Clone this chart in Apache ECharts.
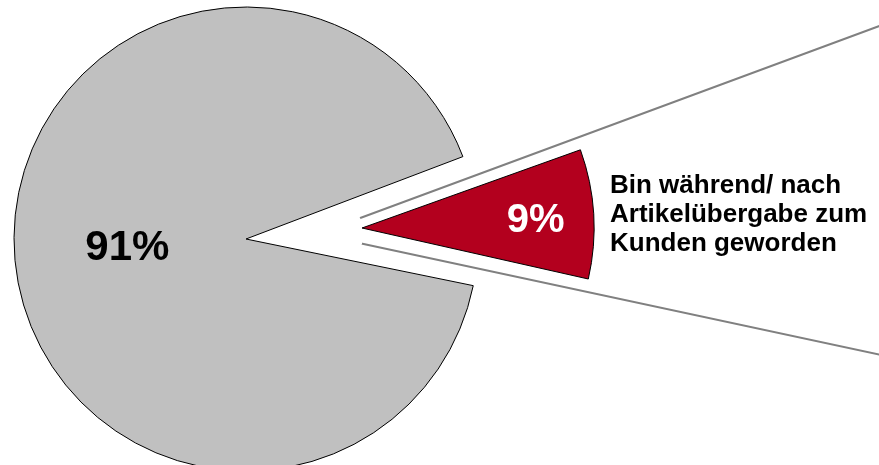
<!DOCTYPE html>
<html>
<head>
<meta charset="utf-8">
<script src="https://cdn.jsdelivr.net/npm/echarts@6/dist/echarts.min.js"></script>
<style>
  html, body { margin: 0; padding: 0; background: #fff; }
  #main { width: 879px; height: 465px; }
</style>
</head>
<body>
<div id="main"></div>
<script>
var categories = ['Sonstige', 'Bin während/ nach Artikelübergabe zum Kunden geworden'];
var values = [91, 9];
var labelLines = ['Bin während/ nach', 'Artikelübergabe zum', 'Kunden geworden'];

var chart = echarts.init(document.getElementById('main'));

var font = 'Arial, "Liberation Sans", sans-serif';
var hidden = { color: 'rgba(0,0,0,0)', borderWidth: 0 };
var noLabel = { show: false };

function slice(i, itemStyle, label) {
  return { name: categories[i], value: values[i], itemStyle: itemStyle, label: label || noLabel };
}

// shared pie settings, nothing interactive
function pie(center, radius, startAngle, data, z) {
  return {
    type: 'pie',
    z: z,
    center: center,
    radius: radius,
    startAngle: startAngle,
    clockwise: true,
    silent: true,
    avoidLabelOverlap: false,
    minAngle: 0,
    labelLine: { show: false },
    emphasis: { disabled: true, scale: false },
    data: data
  };
}

var option = {
  animation: false,
  title: {
    text: labelLines.join('\n'),
    left: 610,
    top: 171,
    padding: 0,
    textStyle: { fontFamily: font, fontSize: 26, fontWeight: 'bold', color: '#000', lineHeight: 29 }
  },
  series: [
    // grosser Hintergrund-Keil (Lupe)
    pie([317, 234], 700, 20.3, [
      slice(1, { color: '#fff', borderColor: '#808080', borderWidth: 2 }),
      slice(0, hidden)
    ], 1),
    // Spitze ausblenden
    pie([317, 234], 44, 20.3, [
      slice(1, { color: '#fff', borderColor: '#fff', borderWidth: 4 }),
      slice(0, hidden)
    ], 2),
    // Hauptkreis 91%
    pie([246, 239], 232, 20.8, [
      slice(1, hidden),
      slice(0, { color: '#C0C0C0', borderColor: '#000', borderWidth: 1 }, {
        show: true, position: 'inside', formatter: '{c}%',
        fontFamily: font, fontSize: 42, fontWeight: 'bold', color: '#000'
      })
    ], 3),
    // herausgezogenes 9%-Stueck
    pie([362, 228], 232, 19.7, [
      slice(1, { color: '#B3001E', borderColor: '#000', borderWidth: 1 }, {
        show: true, position: 'inside', formatter: '{c}%',
        fontFamily: font, fontSize: 40, fontWeight: 'bold', color: '#fff',
        padding: [0, 0, 0, 110]
      }),
      slice(0, hidden)
    ], 4)
  ]
};

chart.setOption(option);
</script>
</body>
</html>
